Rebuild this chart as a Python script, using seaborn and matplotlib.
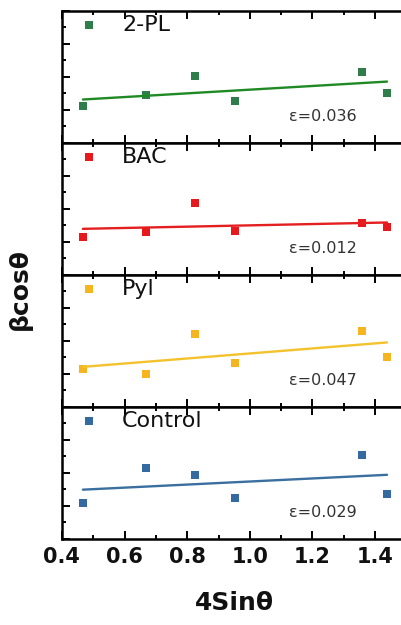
import numpy as np
import pandas as pd
import matplotlib
matplotlib.use("Agg")
import matplotlib.pyplot as plt
from matplotlib.ticker import MultipleLocator
import seaborn as sns

# Williamson-Hall data (y in arbitrary units, no tick labels in the original)
x_4sin = [0.467, 0.670, 0.824, 0.954, 1.357, 1.438]
samples = ["2-PL", "BAC", "Pyl", "Control"]
bcos_2pl = [1.10, 1.43, 2.03, 1.26, 2.15, 1.50]
bcos_bac = [1.14, 1.28, 2.17, 1.32, 1.57, 1.43]
bcos_pyl = [1.13, 0.99, 2.21, 1.33, 2.29, 1.51]
bcos_control = [1.07, 2.13, 1.92, 1.23, 2.55, 1.37]
strain_labels = ["ε=0.036", "ε=0.012", "ε=0.047", "ε=0.029"]

marker_colors = ["#2e7d4a", "#e8191c", "#f6b51f", "#356aa0"]
line_colors = ["#1f8a24", "#e41f1f", "#f4c22c", "#3a6f9f"]

sns.set_style("ticks")
plt.rcParams["font.family"] = ["DejaVu Sans"]
plt.rcParams["text.color"] = "#111111"
plt.rcParams["axes.labelcolor"] = "#111111"
plt.rcParams["xtick.color"] = "#111111"

fig, axes = plt.subplots(4, 1, figsize=(4.02, 6.25), dpi=100, sharex=True)
# right edge sits just past the figure, as in the cropped original
fig.subplots_adjust(left=0.154, right=1.011, top=0.983, bottom=0.138, hspace=0)

series = [bcos_2pl, bcos_bac, bcos_pyl, bcos_control]
for ax, name, yv, mc, lc, eps in zip(axes, samples, series, marker_colors, line_colors, strain_labels):
    df = pd.DataFrame({"x": x_4sin, "y": yv})
    sns.regplot(
        data=df, x="x", y="y", ax=ax, ci=None, marker="s", label=name,
        scatter_kws={"s": 34, "color": mc, "linewidths": 0, "alpha": 1},
        line_kws={"color": lc, "lw": 1.7},
    )
    ax.set_xlim(0.4, 1.5)
    ax.set_ylim(0, 4)
    ax.xaxis.set_major_locator(MultipleLocator(0.2))
    ax.xaxis.set_minor_locator(MultipleLocator(0.1))
    ax.yaxis.set_major_locator(MultipleLocator(1))
    ax.yaxis.set_minor_locator(MultipleLocator(0.5))
    ax.tick_params(which="both", direction="in", top=True, right=False,
                   width=1.4, labelleft=False, color="black")
    ax.tick_params(which="major", length=5.8)
    ax.tick_params(which="minor", length=3)
    for sp in ax.spines.values():
        sp.set_linewidth(1.8)
        sp.set_color("black")
    ax.set_xlabel("")
    ax.set_ylabel("")
    ax.legend(loc="upper left", frameon=False, fontsize=16, handlelength=2,
              handletextpad=0.5, borderaxespad=0, borderpad=0.2)
    ax.text(0.66, 0.2, eps, transform=ax.transAxes, fontsize=11.5,
            color="#333333", va="center")

bottom = axes[-1]
bottom.tick_params(axis="x", labelsize=15, pad=6)
plt.setp(bottom.get_xticklabels(), fontweight="bold")
bottom.set_xlabel("4Sinθ", fontsize=18, fontweight="bold", labelpad=17)
fig.text(0.05, 1 - 289 / 625, "βcosθ", rotation=90, fontsize=18,
         fontweight="bold", ha="center", va="center")

fig.savefig("out.png", dpi=100)
plt.close(fig)
